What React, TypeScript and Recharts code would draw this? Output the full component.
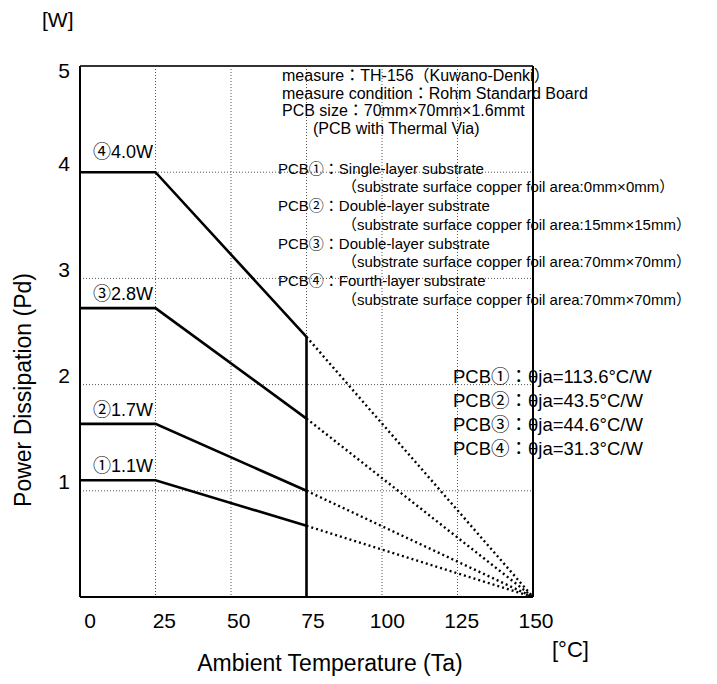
import { LineChart, Line, CartesianGrid, XAxis, YAxis, ReferenceLine } from "recharts";

const FONT = '"Liberation Sans", Arial, "Noto Sans CJK JP", sans-serif';

// Ta points: 0, knee at 25, end of solid part at 75, 150
const temps = [0, 25, 75, 150];
const pcb1 = [1.1, 1.1, 0.67, 0];
const pcb2 = [1.63, 1.63, 1.0, 0];
const pcb3 = [2.72, 2.72, 1.68, 0];
const pcb4 = [4.0, 4.0, 2.45, 0];
const solidEnd = 2;

const xTicks = [0, 25, 50, 75, 100, 125, 150];
const yTicks = [1, 2, 3, 4, 5];

const pdLabels = ["④4.0W", "③2.8W", "②1.7W", "①1.1W"];
const headerLines = [
  "measure：TH-156（Kuwano-Denki）",
  "measure condition：Rohm Standard Board",
  "PCB size：70mm×70mm×1.6mmt",
];
const viaLine = "(PCB with Thermal Via)";
const boardNames = [
  "PCB①：Single-layer substrate",
  "PCB②：Double-layer substrate",
  "PCB③：Double-layer substrate",
  "PCB④：Fourth-layer substrate",
];
const boardAreas = [
  "（substrate surface copper foil area:0mm×0mm）",
  "（substrate surface copper foil area:15mm×15mm）",
  "（substrate surface copper foil area:70mm×70mm）",
  "（substrate surface copper foil area:70mm×70mm）",
];
const thetaLines = [
  "PCB①：θja=113.6°C/W",
  "PCB②：θja=43.5°C/W",
  "PCB③：θja=44.6°C/W",
  "PCB④：θja=31.3°C/W",
];

const series = [pcb1, pcb2, pcb3, pcb4];
const data = temps.map((ta, i) => {
  const row: Record<string, number | null> = { ta };
  series.forEach((s, k) => {
    row["s" + (k + 1)] = i <= solidEnd ? s[i] : null;
    row["d" + (k + 1)] = i >= solidEnd ? s[i] : null;
  });
  return row;
});

// labels sit a little right of their grid lines in the original
const XTick = (props: any) => {
  const { x, y, payload } = props;
  const dx = 10 - (payload.value / 150) * 7;
  return (
    <text x={x + dx} y={y + 31} textAnchor="middle" fontSize={21} fontFamily={FONT} fill="#000">
      {payload.value}
    </text>
  );
};

const YTick = (props: any) => {
  const { x, y, payload } = props;
  const off = payload.value === 5 ? 4 : -9;
  return (
    <text x={x} y={y + off + 7.5} textAnchor="end" fontSize={21} fontFamily={FONT} fill="#000">
      {payload.value}
    </text>
  );
};

export default function App() {
  return (
    <div style={{ position: "absolute", left: 0, top: 0, width: 717, height: 684, background: "#fff" }}>
      <LineChart
        width={717}
        height={684}
        data={data}
        margin={{ top: 66, right: 184, bottom: 57, left: 20 }}
      >
        <CartesianGrid stroke="#555" strokeDasharray="1 2" />
        <XAxis
          dataKey="ta"
          type="number"
          domain={[0, 150]}
          ticks={xTicks}
          height={30}
          tickLine={false}
          tickSize={0}
          tickMargin={0}
          axisLine={{ stroke: "#000", strokeWidth: 2 }}
          tick={<XTick />}
        />
        <YAxis
          type="number"
          domain={[0, 5]}
          ticks={yTicks}
          width={60}
          tickLine={false}
          tickSize={0}
          tickMargin={10}
          axisLine={{ stroke: "#000", strokeWidth: 2 }}
          tick={<YTick />}
        />
        <ReferenceLine y={5} stroke="#333" strokeWidth={2} />
        <ReferenceLine x={150} stroke="#000" strokeWidth={2} />
        <ReferenceLine
          segment={[
            { x: temps[solidEnd], y: 0 },
            { x: temps[solidEnd], y: pcb4[solidEnd] },
          ]}
          stroke="#000"
          strokeWidth={2.6}
        />
        {[1, 2, 3, 4].map((k) => (
          <Line
            key={"s" + k}
            type="linear"
            dataKey={"s" + k}
            stroke="#000"
            strokeWidth={2.6}
            dot={false}
            isAnimationActive={false}
          />
        ))}
        {[1, 2, 3, 4].map((k) => (
          <Line
            key={"d" + k}
            type="linear"
            dataKey={"d" + k}
            stroke="#000"
            strokeWidth={2.4}
            strokeDasharray="2 3"
            dot={false}
            isAnimationActive={false}
          />
        ))}
      </LineChart>

      <svg
        width={717}
        height={684}
        style={{ position: "absolute", left: 0, top: 0, pointerEvents: "none" }}
        fontFamily={FONT}
        fill="#000"
      >
        <text x={42} y={27} fontSize={21}>[W]</text>
        <text x={31} y={390} fontSize={23} textAnchor="middle" transform="rotate(-90 31 390)">
          Power Dissipation (Pd)
        </text>
        <text x={330} y={671} fontSize={23} textAnchor="middle">Ambient Temperature (Ta)</text>
        <text x={552} y={657} fontSize={22}>[°C]</text>

        {pdLabels.map((t, i) => (
          <text key={t} x={93} y={[158, 300, 415.5, 472][i]} fontSize={18}>{t}</text>
        ))}

        {headerLines.map((t, i) => (
          <text key={t} x={282} y={81 + i * 17.6} fontSize={16}>{t}</text>
        ))}
        <text x={313} y={134} fontSize={16}>{viaLine}</text>

        {boardNames.map((t, i) => (
          <g key={t}>
            <text x={278} y={173.5 + i * 37.5} fontSize={15}>{t}</text>
            <text x={342} y={192 + i * 37.5} fontSize={15}>{boardAreas[i]}</text>
          </g>
        ))}

        {thetaLines.map((t, i) => (
          <text key={t} x={453} y={383 + i * 24} fontSize={18.5}>{t}</text>
        ))}
      </svg>
    </div>
  );
}
